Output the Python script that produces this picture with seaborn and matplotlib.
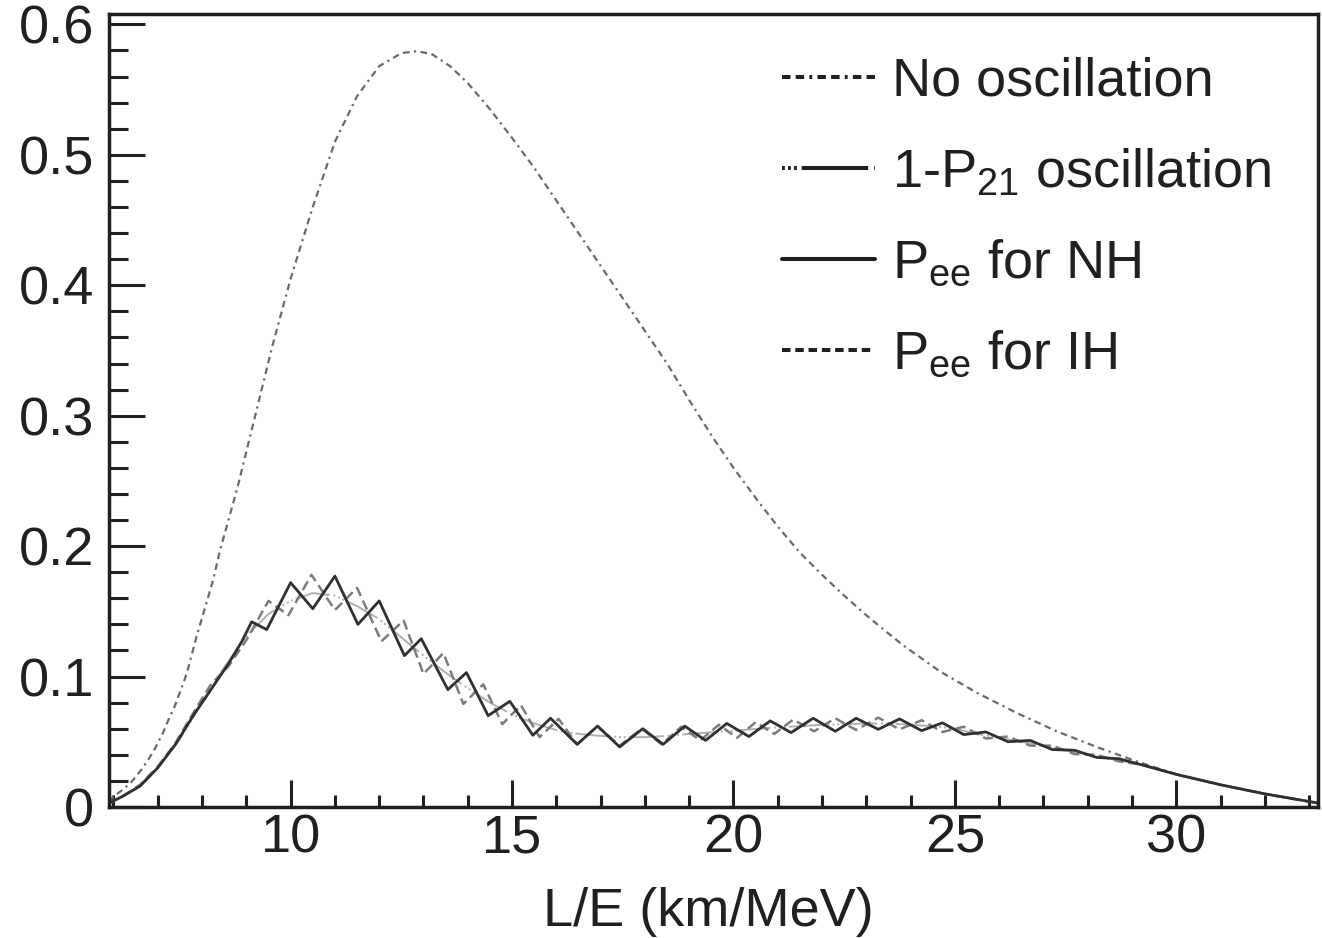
import matplotlib
matplotlib.use("Agg")
import matplotlib.pyplot as plt
from matplotlib.lines import Line2D
from matplotlib.ticker import FixedLocator, MultipleLocator
import pandas as pd
import seaborn as sns

# values (L/E in km/MeV)
noosc_x = [5.9, 6.0, 6.2, 6.4, 6.64, 6.8, 6.94, 7.12, 7.23, 7.38, 7.49, 7.61, 7.7, 7.87,
           8.06, 8.25, 8.4, 8.8, 9.2, 9.6, 10.0, 10.5, 11.0, 11.5, 12.0, 12.5, 12.86, 13.2,
           13.6, 14.0, 14.5, 15.0, 15.5, 16.0, 16.5, 17.0, 17.5, 18.0, 18.5, 19.0, 19.5,
           20.0, 20.5, 21.0, 21.5, 22.0, 22.5, 23.0, 23.5, 23.83, 24.66, 25.5, 26.4, 27.3,
           28.2, 29.1, 30.1, 31.2, 32.2, 33.2]
noosc_y = [0.004, 0.008, 0.013, 0.019, 0.029, 0.037, 0.045, 0.057, 0.066, 0.077, 0.087,
           0.098, 0.108, 0.130, 0.152, 0.174, 0.196, 0.245, 0.300, 0.355, 0.405, 0.460,
           0.510, 0.545, 0.568, 0.578, 0.5795, 0.577, 0.568, 0.555, 0.535, 0.513, 0.490,
           0.465, 0.440, 0.415, 0.390, 0.365, 0.340, 0.312, 0.285, 0.260, 0.237, 0.215,
           0.195, 0.178, 0.162, 0.147, 0.133, 0.124, 0.104, 0.0875, 0.072, 0.058, 0.046,
           0.035, 0.024, 0.0155, 0.009, 0.003]

p21_x = [5.9, 6.0, 6.5, 7.0, 7.5, 8.0, 8.5, 9.0, 9.5, 10.0, 10.5, 11.0, 11.5, 12.0, 12.5,
         13.0, 13.5, 14.0, 14.5, 15.0, 15.5, 16.0, 16.5, 17.0, 17.5, 18.0, 18.5, 19.0,
         19.5, 20.0, 20.5, 21.0, 21.5, 22.0, 22.5, 23.0, 23.5, 24.0, 24.5, 25.0, 25.5,
         26.0, 26.5, 27.0, 27.5, 28.0, 28.5, 29.0, 29.5, 30.0, 30.5, 31.0, 31.5, 32.0,
         32.5, 33.0, 33.2]
p21_y = [0.003, 0.005, 0.014, 0.030, 0.052, 0.080, 0.107, 0.131, 0.148, 0.158, 0.164,
         0.162, 0.154, 0.144, 0.130, 0.116, 0.103, 0.091, 0.080, 0.071, 0.064, 0.059,
         0.056, 0.0545, 0.0535, 0.0535, 0.0545, 0.056, 0.0572, 0.0585, 0.0598, 0.061,
         0.062, 0.063, 0.0635, 0.064, 0.064, 0.063, 0.062, 0.060, 0.056, 0.053, 0.050,
         0.047, 0.0435, 0.040, 0.037, 0.034, 0.030, 0.025, 0.021, 0.017, 0.014, 0.010,
         0.007, 0.004, 0.003]

nh_x = [5.9, 6.2, 6.6, 7.0, 7.4, 7.8, 8.2, 8.6, 8.9, 9.12, 9.46, 10.0, 10.5, 11.0, 11.52,
        12.0, 12.57, 12.95, 13.55, 13.97, 14.46, 14.95, 15.47, 15.87, 16.47, 16.93, 17.43,
        17.95, 18.41, 18.9, 19.37, 19.85, 20.35, 20.83, 21.3, 21.8, 22.3, 22.77, 23.27,
        23.75, 24.25, 24.72, 25.2, 25.7, 26.2, 26.7, 27.2, 27.7, 28.2, 28.7, 29.2, 30.0,
        31.0, 32.0, 33.2]
nh_y = [0.003, 0.008, 0.016, 0.030, 0.048, 0.070, 0.090, 0.110, 0.127, 0.142, 0.136,
        0.172, 0.152, 0.177, 0.140, 0.158, 0.116, 0.129, 0.090, 0.103, 0.070, 0.081,
        0.055, 0.068, 0.048, 0.062, 0.046, 0.060, 0.048, 0.062, 0.051, 0.064, 0.054,
        0.066, 0.057, 0.068, 0.058, 0.068, 0.0595, 0.0675, 0.0585, 0.0645, 0.0555,
        0.0575, 0.050, 0.051, 0.044, 0.0435, 0.038, 0.037, 0.0325, 0.025, 0.017, 0.010,
        0.003]

ih_x = [5.9, 6.2, 6.6, 7.0, 7.4, 7.8, 8.2, 8.6, 9.0, 9.5, 9.95, 10.47, 11.0, 11.5, 12.05,
        12.55, 13.0, 13.45, 13.9, 14.35, 14.78, 15.2, 15.62, 16.05, 16.47, 16.93, 17.43,
        17.93, 18.38, 18.82, 19.25, 19.67, 20.08, 20.5, 20.92, 21.35, 21.82, 22.3, 22.77,
        23.27, 23.75, 24.25, 24.72, 25.2, 25.7, 26.2, 26.7, 27.2, 27.7, 28.2, 28.7, 29.2,
        30.0, 31.0, 32.0, 33.2]
ih_y = [0.003, 0.008, 0.017, 0.031, 0.049, 0.072, 0.094, 0.108, 0.128, 0.158, 0.147,
        0.178, 0.151, 0.168, 0.127, 0.143, 0.102, 0.118, 0.079, 0.094, 0.0635, 0.078,
        0.0535, 0.0675, 0.048, 0.062, 0.047, 0.060, 0.048, 0.0615, 0.051, 0.063, 0.053,
        0.065, 0.056, 0.067, 0.058, 0.068, 0.059, 0.0685, 0.0595, 0.0665, 0.0575,
        0.0615, 0.0525, 0.054, 0.047, 0.047, 0.0405, 0.040, 0.035, 0.0325, 0.025, 0.017,
        0.010, 0.003]

x_ticks = [10, 15, 20, 25, 30]
y_ticks = [0, 0.1, 0.2, 0.3, 0.4, 0.5, 0.6]
y_tick_labels = ["0", "0.1", "0.2", "0.3", "0.4", "0.5", "0.6"]
legend_labels = ["No oscillation", r"1-P$_{\mathrm{21}}$ oscillation",
                 r"P$_{\mathrm{ee}}$ for NH", r"P$_{\mathrm{ee}}$ for IH"]

sns.set_style("ticks")
plt.rcParams["font.family"] = ["Liberation Sans", "DejaVu Sans"]
plt.rcParams["mathtext.fontset"] = "custom"
plt.rcParams["mathtext.rm"] = "Liberation Sans"
plt.rcParams["mathtext.it"] = "Liberation Sans:italic"
plt.rcParams["mathtext.bf"] = "Liberation Sans:bold"

INK = "#231f20"
FS = 39

fig = plt.figure(figsize=(13.22, 9.38), dpi=100)
ax = fig.add_axes([0.0825, 0.1397, 0.9145, 0.8454])

sns.lineplot(x=noosc_x, y=noosc_y, ax=ax, color="#6a6a6a", lw=1.6,
             linestyle=(0, (3, 2, 3, 2, 1, 2)), errorbar=None)
sns.lineplot(x=p21_x, y=p21_y, ax=ax, color="#b0b0b0", lw=1.4,
             linestyle=(0, (1, 1.5, 1, 1.5, 1, 1.5, 18, 2)), errorbar=None)
sns.lineplot(x=ih_x, y=ih_y, ax=ax, color="#7c7c7c", lw=1.8,
             linestyle=(0, (4, 2)), dash_joinstyle="round", errorbar=None)
sns.lineplot(x=nh_x, y=nh_y, ax=ax, color="#303030", lw=2.0,
             solid_joinstyle="round", errorbar=None)

ax.set_xlim(5.9, 33.2)
ax.set_ylim(0, 0.608)
ax.xaxis.set_major_locator(FixedLocator(x_ticks))
ax.xaxis.set_minor_locator(MultipleLocator(1))
ax.set_yticks(y_ticks, y_tick_labels)
ax.yaxis.set_minor_locator(MultipleLocator(0.02))

ax.tick_params(axis="both", which="both", direction="in", colors=INK, width=2.2,
               top=False, right=False, labelsize=FS)
ax.tick_params(axis="y", which="major", length=26, pad=11)
ax.tick_params(axis="y", which="minor", length=13.5)
ax.tick_params(axis="x", which="major", length=19.5, pad=4.5)
ax.tick_params(axis="x", which="minor", length=8.5)
for s in ax.spines.values():
    s.set_linewidth(2.5)
    s.set_color(INK)

ax.set_xlabel("L/E (km/MeV)", fontsize=FS, color=INK, va="center")
ax.xaxis.set_label_coords(0.496, -0.132)
ax.set_ylabel("")

# legend keys are drawn black and thick, like the reference
handles = [
    Line2D([], [], color=INK, lw=2.9, linestyle=(0, (2.1, 1.3, 2.1, 1.3, 0.7, 1.3))),
    Line2D([], [], color=INK, lw=2.9, linestyle=(0, (0.7, 0.8, 0.7, 0.8, 0.7, 1.2, 16.5, 1.5))),
    Line2D([], [], color=INK, lw=2.9),
    Line2D([], [], color=INK, lw=2.9, linestyle=(0, (2.1, 1.2))),
]
leg = ax.legend(handles, legend_labels, loc="upper left", bbox_to_anchor=(0.5567, 0.946),
                frameon=False, fontsize=FS, handlelength=1.72, handletextpad=0.3,
                labelspacing=0.74, borderpad=0, borderaxespad=0)
for t in leg.get_texts():
    t.set_color(INK)

fig.savefig("out.png", dpi=100)
